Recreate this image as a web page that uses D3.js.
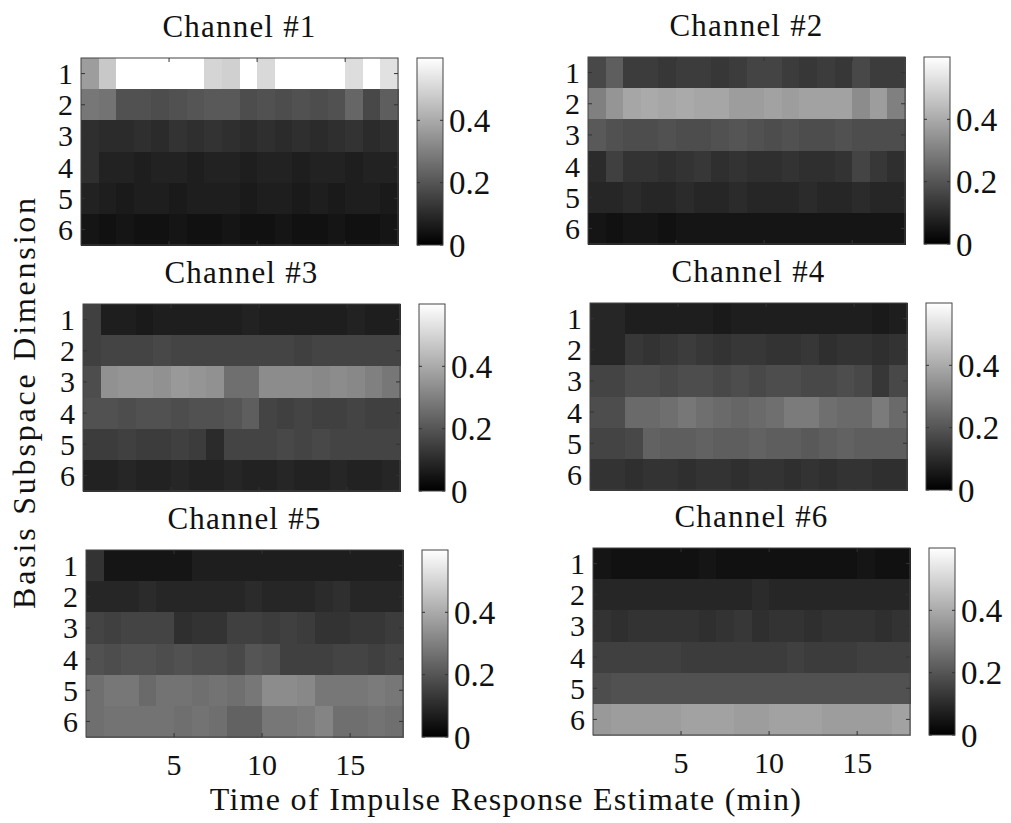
<!DOCTYPE html>
<html>
<head>
<meta charset="utf-8">
<script src="https://cdn.jsdelivr.net/npm/d3@7"></script>
<style>
  body { margin: 0; background: #fff; }
  text { font-family: "Liberation Serif", "Times New Roman", serif; fill: #111; }
</style>
</head>
<body>
<div id="chart"></div>
<script>
// basis weights per channel: 6 subspace dimensions x 18 impulse response estimates
const dimensions = [1, 2, 3, 4, 5, 6];
const timeTicks = [5, 10, 15];
const colorTicks = [0, 0.2, 0.4];
const channelNames = ['Channel #1', 'Channel #2', 'Channel #3', 'Channel #4', 'Channel #5', 'Channel #6'];

const channel1 = [
  [0.37, 0.47, 0.62, 0.62, 0.62, 0.62, 0.62, 0.50, 0.49, 0.62, 0.51, 0.62, 0.62, 0.62, 0.62, 0.52, 0.62, 0.53],
  [0.28, 0.27, 0.19, 0.19, 0.18, 0.19, 0.20, 0.21, 0.21, 0.18, 0.19, 0.18, 0.19, 0.18, 0.19, 0.24, 0.17, 0.22],
  [0.11, 0.10, 0.10, 0.11, 0.10, 0.12, 0.11, 0.12, 0.11, 0.10, 0.11, 0.10, 0.11, 0.10, 0.11, 0.12, 0.10, 0.11],
  [0.11, 0.08, 0.08, 0.07, 0.08, 0.08, 0.07, 0.08, 0.08, 0.07, 0.08, 0.08, 0.07, 0.08, 0.08, 0.07, 0.08, 0.08],
  [0.08, 0.07, 0.06, 0.07, 0.07, 0.06, 0.07, 0.07, 0.07, 0.06, 0.07, 0.07, 0.06, 0.07, 0.06, 0.07, 0.07, 0.06],
  [0.05, 0.04, 0.05, 0.04, 0.04, 0.05, 0.04, 0.04, 0.05, 0.04, 0.04, 0.05, 0.04, 0.04, 0.05, 0.04, 0.04, 0.05]
];
const channel2 = [
  [0.17, 0.22, 0.14, 0.14, 0.13, 0.14, 0.14, 0.13, 0.14, 0.16, 0.16, 0.14, 0.13, 0.14, 0.13, 0.17, 0.14, 0.14],
  [0.30, 0.35, 0.39, 0.40, 0.39, 0.40, 0.39, 0.39, 0.37, 0.37, 0.38, 0.37, 0.38, 0.38, 0.38, 0.33, 0.37, 0.30],
  [0.21, 0.19, 0.18, 0.18, 0.19, 0.18, 0.18, 0.19, 0.20, 0.19, 0.18, 0.19, 0.18, 0.18, 0.19, 0.18, 0.18, 0.18],
  [0.10, 0.15, 0.12, 0.12, 0.11, 0.12, 0.13, 0.11, 0.12, 0.11, 0.11, 0.12, 0.11, 0.11, 0.12, 0.16, 0.13, 0.11],
  [0.09, 0.09, 0.10, 0.09, 0.09, 0.10, 0.09, 0.09, 0.10, 0.09, 0.09, 0.09, 0.10, 0.09, 0.09, 0.10, 0.09, 0.09],
  [0.05, 0.04, 0.05, 0.05, 0.04, 0.05, 0.05, 0.05, 0.05, 0.05, 0.05, 0.05, 0.05, 0.05, 0.05, 0.05, 0.05, 0.05]
];
const channel3 = [
  [0.15, 0.07, 0.07, 0.06, 0.07, 0.07, 0.07, 0.07, 0.07, 0.08, 0.07, 0.07, 0.07, 0.07, 0.07, 0.08, 0.07, 0.07],
  [0.15, 0.16, 0.16, 0.16, 0.17, 0.16, 0.16, 0.16, 0.16, 0.16, 0.16, 0.16, 0.15, 0.16, 0.16, 0.16, 0.16, 0.16],
  [0.18, 0.34, 0.35, 0.35, 0.34, 0.36, 0.35, 0.34, 0.26, 0.26, 0.33, 0.33, 0.33, 0.32, 0.33, 0.32, 0.30, 0.28],
  [0.19, 0.19, 0.18, 0.19, 0.19, 0.18, 0.19, 0.19, 0.20, 0.22, 0.16, 0.15, 0.16, 0.15, 0.15, 0.16, 0.15, 0.15],
  [0.14, 0.14, 0.15, 0.14, 0.14, 0.15, 0.14, 0.10, 0.16, 0.16, 0.16, 0.17, 0.16, 0.17, 0.16, 0.16, 0.16, 0.16],
  [0.08, 0.08, 0.09, 0.08, 0.08, 0.09, 0.08, 0.08, 0.09, 0.08, 0.08, 0.09, 0.08, 0.08, 0.09, 0.08, 0.08, 0.09]
];
const channel4 = [
  [0.09, 0.09, 0.07, 0.07, 0.07, 0.07, 0.07, 0.06, 0.07, 0.07, 0.07, 0.07, 0.07, 0.07, 0.07, 0.07, 0.06, 0.07],
  [0.09, 0.09, 0.13, 0.12, 0.13, 0.14, 0.13, 0.12, 0.13, 0.13, 0.12, 0.12, 0.13, 0.11, 0.12, 0.12, 0.11, 0.12],
  [0.16, 0.16, 0.18, 0.18, 0.17, 0.18, 0.18, 0.17, 0.18, 0.17, 0.18, 0.18, 0.17, 0.17, 0.18, 0.17, 0.13, 0.17],
  [0.18, 0.18, 0.25, 0.25, 0.26, 0.28, 0.26, 0.25, 0.24, 0.25, 0.26, 0.29, 0.29, 0.26, 0.25, 0.25, 0.29, 0.25],
  [0.16, 0.16, 0.17, 0.23, 0.22, 0.22, 0.23, 0.22, 0.22, 0.23, 0.22, 0.22, 0.21, 0.22, 0.23, 0.22, 0.22, 0.22],
  [0.12, 0.12, 0.11, 0.12, 0.12, 0.11, 0.12, 0.12, 0.11, 0.12, 0.12, 0.11, 0.12, 0.11, 0.12, 0.12, 0.11, 0.11]
];
const channel5 = [
  [0.12, 0.05, 0.05, 0.05, 0.05, 0.05, 0.07, 0.07, 0.07, 0.07, 0.07, 0.07, 0.07, 0.07, 0.07, 0.07, 0.07, 0.07],
  [0.09, 0.09, 0.09, 0.10, 0.09, 0.09, 0.09, 0.09, 0.09, 0.10, 0.09, 0.09, 0.09, 0.10, 0.11, 0.09, 0.09, 0.09],
  [0.16, 0.15, 0.16, 0.16, 0.16, 0.11, 0.12, 0.12, 0.15, 0.15, 0.14, 0.15, 0.14, 0.12, 0.12, 0.13, 0.13, 0.14],
  [0.19, 0.18, 0.19, 0.19, 0.18, 0.19, 0.18, 0.18, 0.17, 0.20, 0.19, 0.15, 0.15, 0.15, 0.16, 0.16, 0.15, 0.16],
  [0.26, 0.28, 0.28, 0.25, 0.27, 0.27, 0.26, 0.27, 0.26, 0.28, 0.33, 0.33, 0.32, 0.28, 0.28, 0.28, 0.29, 0.28],
  [0.26, 0.27, 0.27, 0.27, 0.27, 0.26, 0.27, 0.26, 0.23, 0.23, 0.28, 0.28, 0.29, 0.31, 0.26, 0.26, 0.27, 0.26]
];
const channel6 = [
  [0.05, 0.04, 0.04, 0.04, 0.04, 0.04, 0.05, 0.04, 0.04, 0.04, 0.04, 0.04, 0.04, 0.04, 0.04, 0.05, 0.04, 0.04],
  [0.09, 0.09, 0.09, 0.09, 0.09, 0.09, 0.09, 0.09, 0.09, 0.10, 0.09, 0.09, 0.09, 0.09, 0.09, 0.09, 0.09, 0.09],
  [0.12, 0.11, 0.12, 0.12, 0.12, 0.12, 0.11, 0.12, 0.13, 0.11, 0.12, 0.12, 0.11, 0.12, 0.12, 0.12, 0.11, 0.12],
  [0.15, 0.15, 0.15, 0.15, 0.15, 0.14, 0.14, 0.14, 0.14, 0.14, 0.14, 0.15, 0.14, 0.14, 0.14, 0.15, 0.15, 0.15],
  [0.18, 0.19, 0.19, 0.19, 0.19, 0.19, 0.19, 0.19, 0.19, 0.19, 0.19, 0.19, 0.19, 0.19, 0.19, 0.19, 0.19, 0.19],
  [0.36, 0.37, 0.37, 0.37, 0.37, 0.38, 0.38, 0.38, 0.37, 0.37, 0.38, 0.38, 0.38, 0.37, 0.37, 0.37, 0.37, 0.38]
];

const channels = [channel1, channel2, channel3, channel4, channel5, channel6];

const width = 1011;
const height = 823;
const plotW = 317;
const plotH = 187;
const cbGap = 336;   // plot left -> colorbar left
const cbW = 26;
const cMax = 0.6;

// top-left corner of every heatmap
const origins = [
  [81, 58], [588, 57],
  [83, 304], [590, 303],
  [86, 550], [593, 548]
];

const svg = d3.select('#chart')
  .append('svg')
  .attr('width', width)
  .attr('height', height);

// linear gray colormap, black at 0 and white at cMax
const color = d3.scaleLinear()
  .domain([0, cMax])
  .range(['#000000', '#ffffff'])
  .clamp(true);

const defs = svg.append('defs');
const grad = defs.append('linearGradient')
  .attr('id', 'grayBar')
  .attr('x1', 0).attr('y1', 1)
  .attr('x2', 0).attr('y2', 0);
grad.append('stop').attr('offset', '0%').attr('stop-color', color(0));
grad.append('stop').attr('offset', '100%').attr('stop-color', color(cMax));

channels.forEach((matrix, k) => {
  const [ox, oy] = origins[k];
  const g = svg.append('g').attr('transform', `translate(${ox},${oy})`);

  const x = d3.scaleLinear().domain([0, matrix[0].length]).range([0, plotW]);
  const y = d3.scaleBand().domain(dimensions).range([0, plotH]);

  const cells = [];
  matrix.forEach((row, r) => row.forEach((v, c) => cells.push({ dim: dimensions[r], col: c, v })));

  g.append('g')
    .attr('shape-rendering', 'crispEdges')
    .selectAll('rect')
    .data(cells)
    .enter()
    .append('rect')
    .attr('x', d => x(d.col))
    .attr('y', d => y(d.dim))
    .attr('width', x(1) - x(0) + 1)
    .attr('height', y.bandwidth() + 1)
    .attr('fill', d => color(d.v));

  // frame and inward ticks
  g.append('rect')
    .attr('width', plotW)
    .attr('height', plotH)
    .attr('fill', 'none')
    .attr('stroke', '#444')
    .attr('stroke-width', 1);

  const ticks = g.append('g').attr('stroke', '#333').attr('stroke-width', 1);
  timeTicks.forEach(t => {
    ticks.append('line').attr('x1', x(t)).attr('x2', x(t)).attr('y1', plotH).attr('y2', plotH - 4);
    ticks.append('line').attr('x1', x(t)).attr('x2', x(t)).attr('y1', 0).attr('y2', 4);
  });
  dimensions.forEach(d => {
    const cy = y(d) + y.bandwidth() / 2;
    ticks.append('line').attr('x1', 0).attr('x2', 4).attr('y1', cy).attr('y2', cy);
    ticks.append('line').attr('x1', plotW).attr('x2', plotW - 4).attr('y1', cy).attr('y2', cy);
  });

  // dimension labels
  g.selectAll('text.dim')
    .data(dimensions)
    .enter()
    .append('text')
    .attr('class', 'dim')
    .attr('x', -8)
    .attr('y', d => y(d) + y.bandwidth() / 2)
    .attr('dy', '0.35em')
    .attr('text-anchor', 'end')
    .style('font-size', '30px')
    .text(d => d);

  // time labels on the bottom row only
  if (k >= 4) {
    g.selectAll('text.time')
      .data(timeTicks)
      .enter()
      .append('text')
      .attr('class', 'time')
      .attr('x', d => x(d))
      .attr('y', plotH + 38)
      .attr('text-anchor', 'middle')
      .style('font-size', '30px')
      .text(d => d);
  }

  g.append('text')
    .attr('x', plotW / 2)
    .attr('y', -21)
    .attr('text-anchor', 'middle')
    .style('font-size', '31px')
    .style('letter-spacing', '1.2px')
    .text(channelNames[k]);

  // colorbar
  const cb = g.append('g').attr('transform', `translate(${cbGap},0)`);
  const cy = d3.scaleLinear().domain([0, cMax]).range([plotH, 0]);
  cb.append('rect')
    .attr('width', cbW)
    .attr('height', plotH)
    .attr('fill', 'url(#grayBar)')
    .attr('stroke', '#444')
    .attr('stroke-width', 1);
  colorTicks.forEach(t => {
    cb.append('line').attr('x1', cbW).attr('x2', cbW - 3).attr('y1', cy(t)).attr('y2', cy(t)).attr('stroke', '#333');
    cb.append('line').attr('x1', 0).attr('x2', 3).attr('y1', cy(t)).attr('y2', cy(t)).attr('stroke', '#333');
  });
  cb.selectAll('text')
    .data(colorTicks)
    .enter()
    .append('text')
    .attr('x', cbW + 6)
    .attr('y', d => cy(d))
    .attr('dy', '0.35em')
    .style('font-size', '33px')
    .text(d => d3.format('')(d));
});

svg.append('text')
  .attr('x', 506)
  .attr('y', 810)
  .attr('text-anchor', 'middle')
  .style('font-size', '32px')
  .style('letter-spacing', '1.3px')
  .text('Time of Impulse Response Estimate (min)');

svg.append('text')
  .attr('transform', 'translate(35,402) rotate(-90)')
  .attr('text-anchor', 'middle')
  .style('font-size', '32px')
  .style('letter-spacing', '2.8px')
  .text('Basis Subspace Dimension');
</script>
</body>
</html>
